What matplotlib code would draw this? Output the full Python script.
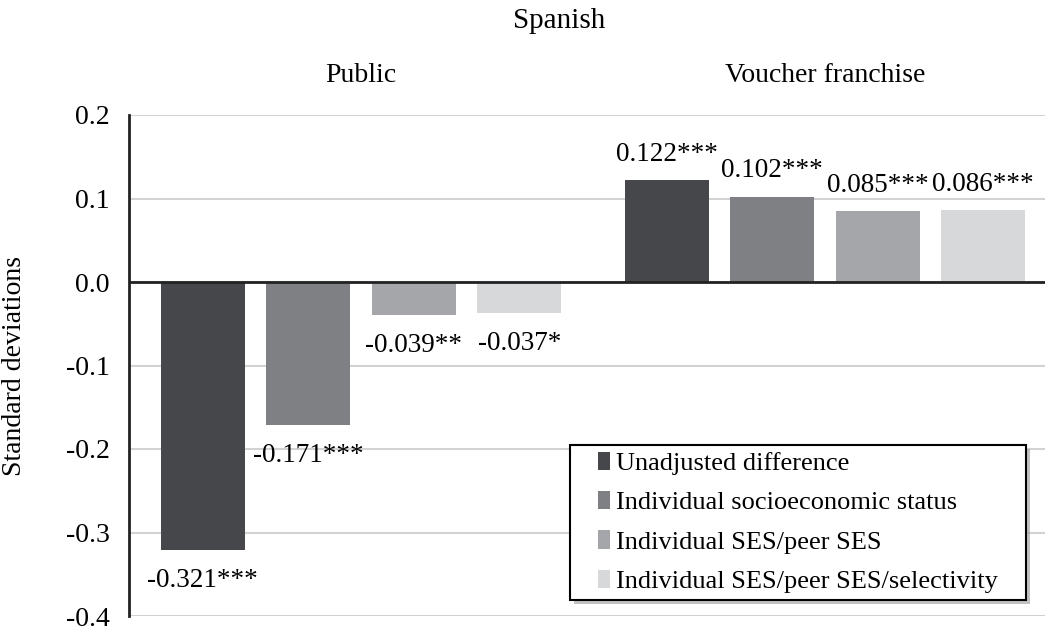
import numpy as np
import matplotlib
matplotlib.use("Agg")
import matplotlib.pyplot as plt
from matplotlib.patches import Rectangle
from matplotlib.ticker import FuncFormatter

plt.rcParams['font.family'] = ['Liberation Serif', 'DejaVu Serif']
plt.rcParams['axes.unicode_minus'] = False

## data
groups = ["Public", "Voucher franchise"]
series = ["Unadjusted difference", "Individual socioeconomic status",
          "Individual SES/peer SES", "Individual SES/peer SES/selectivity"]
public_vals = [-0.321, -0.171, -0.039, -0.037]
voucher_vals = [0.122, 0.102, 0.085, 0.086]
public_stars = ["***", "***", "**", "*"]
voucher_stars = ["***", "***", "***", "***"]
yticks = [-0.4, -0.3, -0.2, -0.1, 0.0, 0.1, 0.2]

colors = ["#46474a", "#7f8084", "#a5a6a9", "#d7d8da"]

W, H = 1045, 631
fig = plt.figure(figsize=(W / 100, H / 100), dpi=100)
# axes spans past the right edge, as in the cropped source
ax = fig.add_axes([129 / W, 15 / H, 928 / W, 501 / H])

x = np.arange(len(groups))
step = 0.2274
width = 0.181
vals = np.array([public_vals, voucher_vals])  # groups x series
stars = [public_stars, voucher_stars]

for i, name in enumerate(series):
    xs = x + (i - 1.5) * step
    ax.bar(xs, vals[:, i], width, color=colors[i], label=name, zorder=3)
    for g in range(len(groups)):
        v = vals[g, i]
        txt = "%.3f%s" % (v, stars[g][i])
        if v < 0:
            ax.text(xs[g], v - 0.037, txt, ha='center', va='center', fontsize=19.5, zorder=4)
        else:
            ax.text(xs[g], v + 0.031, txt, ha='center', va='center', fontsize=19.5, zorder=4)

ax.set_xlim(-0.5, 1.5)
ax.set_ylim(-0.4, 0.2)
ax.set_yticks(yticks)
ax.yaxis.set_major_formatter(FuncFormatter(lambda v, p: "%.1f" % v))
ax.tick_params(axis='y', length=0, pad=14, labelsize=20)
ax.set_xticks([])
ax.yaxis.grid(True, color='#d2d2d2', linewidth=1.5, zorder=0)
ax.set_axisbelow(True)
ax.axhline(0, color='#222222', linewidth=2, zorder=5)

for s in ['top', 'right', 'bottom']:
    ax.spines[s].set_visible(False)
ax.spines['left'].set_linewidth(2)
ax.spines['left'].set_color('#222222')

ax.set_ylabel("Standard deviations", fontsize=20, va='center')
ax.yaxis.set_label_coords((15 - 129) / 928, 0.5)

# group headings and title
for g, name in enumerate(groups):
    ax.text(x[g], 1.078, name, transform=ax.get_xaxis_transform(),
            ha='center', va='center', fontsize=20)
fig.text(559 / W, 1 - 21 / H, "Spanish", ha='center', va='center', fontsize=21)

## legend without frame; box drawn by hand so side padding can be wider than top/bottom
leg = fig.legend(loc='lower left', bbox_to_anchor=(598 / W, 1 - 593 / H), fontsize=19,
                 frameon=False, handlelength=0.45, handleheight=0.7,
                 handletextpad=0.25, labelspacing=0.6, borderpad=0, borderaxespad=0)
leg.set_zorder(10)
fig.canvas.draw()
bb = leg.get_window_extent().transformed(fig.transFigure.inverted())
px, py = 28 / W, 7 / H
x0, y0 = bb.x0 - px, bb.y0 - py
bw, bh = bb.width + 2 * px, bb.height + 2 * py
fig.add_artist(Rectangle((x0 + 4 / W, y0 - 4 / H), bw, bh, transform=fig.transFigure,
                         facecolor='#9a9a9a', edgecolor='none', alpha=0.6, zorder=8))
fig.add_artist(Rectangle((x0, y0), bw, bh, transform=fig.transFigure,
                         facecolor='white', edgecolor='black', linewidth=1.5, zorder=9))

fig.savefig("out.png", dpi=100)
